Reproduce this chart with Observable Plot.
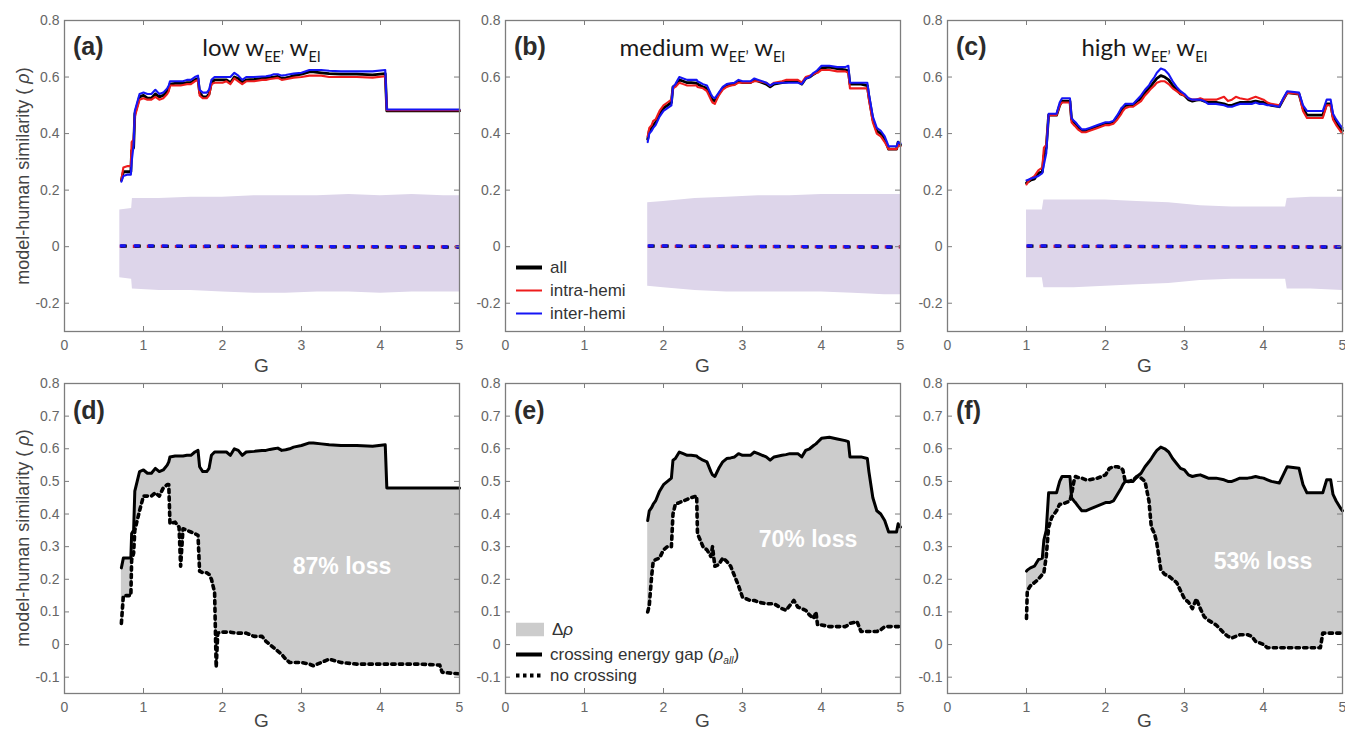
<!DOCTYPE html>
<html>
<head>
<meta charset="utf-8">
<script src="https://cdn.jsdelivr.net/npm/d3@7"></script>
<script src="https://cdn.jsdelivr.net/npm/@observablehq/plot@0.6"></script>
<style>
  html, body { margin: 0; padding: 0; background: #fff; overflow: hidden; }
  #fig { position: relative; width: 1345px; height: 732px; font-family: "Liberation Sans", Arial, sans-serif; color: #333; }
  .panel { position: absolute; }
  .abs { position: absolute; white-space: nowrap; line-height: 1; }
  .abs sub { font-size: 0.6em; vertical-align: -0.45em; line-height: 0; }
  .letter { font-weight: bold; font-size: 25px; color: #2b2b2b; }
  .title { font-family: Lato, "Liberation Sans", sans-serif; font-size: 24px; color: #1a1a1a; }
  .axlab { font-size: 19px; color: #444; }
  .loss { font-weight: bold; font-size: 23px; color: #fff; }
  .leg { font-size: 17px; color: #333; display: flex; align-items: center; }
  .leg svg { margin-right: 6px; }
</style>
</head>
<body>
<div id="fig"></div>
<script>
// ---------- panel (a)/(d): low wEE, wEI ----------
const gD = [0.72,0.745,0.80,0.84,0.85,0.875,0.89,0.92,0.95,1.00,
  1.05,1.10,1.15,1.20,1.25,1.30,1.32,1.335,1.40,1.45,
  1.47,1.50,1.55,1.60,1.65,1.69,1.71,1.75,1.80,1.83,
  1.86,1.90,1.92,1.94,2.00,2.05,2.10,2.15,2.20,2.25,
  2.30,2.40,2.50,2.55,2.60,2.65,2.70,2.75,2.80,2.85,
  2.90,3.00,3.10,3.15,3.25,3.35,3.50,3.70,3.90,4.06,
  4.08,4.50,4.75,4.78,5.00];
const allD = [0.235,0.265,0.265,0.265,0.34,0.35,0.47,0.50,0.53,0.535,
  0.525,0.525,0.54,0.53,0.535,0.55,0.56,0.575,0.578,0.578,
  0.578,0.578,0.58,0.58,0.59,0.595,0.545,0.53,0.53,0.54,
  0.58,0.59,0.59,0.59,0.59,0.59,0.58,0.60,0.595,0.58,
  0.59,0.592,0.595,0.595,0.598,0.60,0.602,0.595,0.597,0.60,
  0.605,0.61,0.618,0.618,0.615,0.612,0.61,0.61,0.608,0.612,
  0.48,0.48,0.48,0.48,0.48];
const noCrossD = [0.065,0.15,0.15,0.15,0.26,0.28,0.35,0.38,0.41,0.455,
  0.455,0.455,0.465,0.455,0.48,0.49,0.49,0.37,0.375,0.36,
  0.24,0.355,0.35,0.345,0.34,0.335,0.225,0.22,0.22,0.215,
  0.20,0.16,-0.07,0.035,0.038,0.038,0.038,0.036,0.035,0.035,
  0.035,0.025,0.025,0.01,0.0,-0.01,-0.02,-0.03,-0.045,-0.055,
  -0.055,-0.055,-0.06,-0.065,-0.055,-0.045,-0.055,-0.06,-0.06,-0.06,
  -0.06,-0.06,-0.063,-0.085,-0.09];
const intraA = [0.235,0.28,0.285,0.285,0.37,0.38,0.46,0.49,0.52,0.525,
  0.52,0.52,0.53,0.52,0.525,0.54,0.55,0.57,0.57,0.57,
  0.57,0.572,0.575,0.575,0.585,0.59,0.535,0.525,0.525,0.535,
  0.575,0.58,0.58,0.58,0.58,0.585,0.575,0.595,0.585,0.575,
  0.585,0.585,0.59,0.59,0.593,0.595,0.597,0.59,0.592,0.595,
  0.598,0.60,0.605,0.605,0.605,0.60,0.60,0.60,0.598,0.603,
  0.483,0.483,0.483,0.483,0.483];
const interA = [0.23,0.25,0.255,0.255,0.30,0.36,0.48,0.51,0.54,0.545,
  0.54,0.54,0.555,0.54,0.545,0.56,0.57,0.585,0.585,0.585,
  0.585,0.585,0.59,0.59,0.60,0.605,0.555,0.545,0.545,0.555,
  0.59,0.60,0.60,0.60,0.60,0.60,0.60,0.615,0.605,0.59,
  0.60,0.60,0.602,0.603,0.605,0.61,0.61,0.605,0.607,0.61,
  0.612,0.615,0.625,0.625,0.625,0.622,0.62,0.62,0.62,0.625,
  0.485,0.485,0.485,0.485,0.485];
const gBandA = [0.70,0.85,0.86,1.2,1.6,2.0,2.4,2.8,3.2,3.6,4.0,4.4,4.8,5.0];
const hiA = [0.13,0.135,0.17,0.17,0.175,0.175,0.18,0.18,0.18,0.185,0.18,0.185,0.18,0.18];
const loA = [-0.11,-0.115,-0.15,-0.155,-0.155,-0.16,-0.165,-0.165,-0.16,-0.16,-0.165,-0.16,-0.16,-0.16];

// ---------- panel (b)/(e): medium wEE, wEI ----------
const gE = [1.80,1.82,1.85,1.87,1.90,1.95,2.00,2.05,2.10,2.12,
  2.15,2.20,2.25,2.30,2.35,2.42,2.43,2.50,2.55,2.60,
  2.62,2.65,2.70,2.75,2.80,2.85,2.90,2.95,3.00,3.10,
  3.15,3.20,3.30,3.35,3.40,3.50,3.55,3.60,3.65,3.70,
  3.75,3.80,3.85,3.90,3.93,3.95,4.00,4.10,4.20,4.30,
  4.34,4.36,4.45,4.50,4.58,4.60,4.65,4.70,4.75,4.80,
  4.85,4.95,4.97,5.00];
const allE = [0.38,0.41,0.42,0.43,0.44,0.47,0.49,0.50,0.51,0.565,
  0.57,0.59,0.585,0.58,0.58,0.578,0.575,0.565,0.56,0.53,
  0.52,0.515,0.54,0.56,0.57,0.572,0.575,0.585,0.58,0.58,
  0.59,0.585,0.575,0.565,0.575,0.58,0.582,0.585,0.585,0.585,
  0.575,0.595,0.60,0.61,0.615,0.62,0.632,0.635,0.63,0.625,
  0.622,0.575,0.575,0.575,0.57,0.53,0.45,0.41,0.40,0.38,
  0.345,0.345,0.37,0.36];
const noCrossE = [0.10,0.12,0.21,0.255,0.26,0.265,0.29,0.30,0.30,0.40,
  0.43,0.435,0.44,0.445,0.45,0.455,0.34,0.30,0.29,0.27,
  0.30,0.24,0.245,0.265,0.255,0.24,0.21,0.18,0.145,0.135,
  0.135,0.13,0.125,0.125,0.125,0.11,0.105,0.12,0.135,0.115,
  0.11,0.105,0.09,0.08,0.10,0.06,0.06,0.055,0.055,0.055,
  0.06,0.065,0.07,0.04,0.04,0.04,0.04,0.04,0.045,0.055,
  0.055,0.055,0.055,0.055];
const intraB = [0.39,0.42,0.43,0.445,0.45,0.48,0.50,0.51,0.52,0.56,
  0.565,0.58,0.575,0.57,0.57,0.57,0.565,0.56,0.55,0.52,
  0.51,0.505,0.535,0.555,0.565,0.57,0.572,0.58,0.58,0.58,
  0.585,0.585,0.58,0.57,0.58,0.585,0.59,0.59,0.59,0.59,
  0.58,0.60,0.605,0.61,0.615,0.615,0.625,0.625,0.62,0.62,
  0.615,0.56,0.56,0.56,0.56,0.52,0.44,0.40,0.39,0.37,
  0.345,0.345,0.36,0.355];
const interB = [0.37,0.40,0.41,0.42,0.43,0.46,0.48,0.49,0.50,0.565,
  0.575,0.60,0.595,0.59,0.59,0.59,0.585,0.575,0.57,0.54,
  0.53,0.525,0.545,0.565,0.575,0.578,0.58,0.59,0.585,0.585,
  0.595,0.59,0.58,0.57,0.578,0.58,0.58,0.58,0.58,0.58,
  0.575,0.595,0.60,0.615,0.62,0.625,0.64,0.64,0.635,0.635,
  0.64,0.58,0.58,0.58,0.58,0.54,0.46,0.42,0.41,0.39,
  0.355,0.355,0.37,0.365];
const gBandB = [1.80,2.0,2.4,2.8,3.2,3.6,4.0,4.4,4.8,5.0];
const hiB = [0.155,0.16,0.17,0.175,0.18,0.18,0.185,0.185,0.185,0.185];
const loB = [-0.14,-0.145,-0.155,-0.16,-0.16,-0.16,-0.16,-0.165,-0.17,-0.17];

// ---------- panel (c)/(f): high wEE, wEI ----------
const gF = [1.00,1.01,1.05,1.10,1.15,1.20,1.22,1.25,1.28,1.32,
  1.38,1.42,1.45,1.50,1.55,1.57,1.60,1.62,1.65,1.70,
  1.75,1.80,1.90,2.00,2.05,2.10,2.15,2.20,2.22,2.25,
  2.30,2.35,2.40,2.45,2.50,2.55,2.58,2.62,2.65,2.70,
  2.75,2.80,2.85,2.90,2.95,3.00,3.05,3.10,3.15,3.20,
  3.25,3.30,3.40,3.50,3.55,3.60,3.65,3.70,3.80,3.85,
  3.90,3.95,4.00,4.05,4.10,4.20,4.25,4.30,4.45,4.50,
  4.55,4.72,4.75,4.80,4.85,4.88,4.92,4.97,5.00];
const allF = [0.225,0.228,0.235,0.24,0.26,0.265,0.32,0.35,0.465,0.465,
  0.465,0.50,0.515,0.515,0.515,0.45,0.44,0.435,0.425,0.41,
  0.41,0.415,0.425,0.435,0.435,0.44,0.46,0.48,0.49,0.50,
  0.50,0.50,0.515,0.525,0.545,0.56,0.57,0.585,0.595,0.605,
  0.60,0.59,0.57,0.555,0.54,0.535,0.52,0.515,0.518,0.52,
  0.515,0.51,0.51,0.505,0.50,0.50,0.505,0.51,0.51,0.512,
  0.515,0.512,0.51,0.505,0.50,0.495,0.52,0.545,0.54,0.49,
  0.465,0.465,0.465,0.505,0.505,0.46,0.44,0.42,0.41];
const noCrossF = [0.08,0.165,0.18,0.19,0.20,0.215,0.22,0.27,0.36,0.39,
  0.41,0.43,0.43,0.435,0.44,0.46,0.50,0.515,0.512,0.51,
  0.505,0.505,0.51,0.52,0.54,0.545,0.545,0.54,0.535,0.50,
  0.50,0.505,0.515,0.51,0.50,0.44,0.36,0.34,0.31,0.23,
  0.215,0.21,0.20,0.19,0.165,0.14,0.13,0.11,0.14,0.11,
  0.085,0.075,0.06,0.035,0.025,0.02,0.025,0.03,0.03,0.025,
  0.01,0.005,0.0,-0.01,-0.01,-0.01,-0.01,-0.01,-0.01,-0.01,
  -0.01,-0.01,0.035,0.035,0.035,0.035,0.035,0.035,0.035];
const intraC = [0.22,0.225,0.24,0.25,0.27,0.28,0.35,0.36,0.465,0.465,
  0.465,0.50,0.51,0.51,0.51,0.44,0.43,0.425,0.415,0.405,
  0.405,0.41,0.42,0.43,0.43,0.435,0.45,0.47,0.48,0.49,
  0.495,0.495,0.505,0.515,0.535,0.55,0.56,0.57,0.58,0.585,
  0.585,0.575,0.56,0.55,0.54,0.535,0.525,0.52,0.52,0.525,
  0.52,0.52,0.52,0.53,0.515,0.52,0.53,0.525,0.52,0.525,
  0.53,0.525,0.52,0.51,0.505,0.50,0.52,0.545,0.54,0.48,
  0.455,0.455,0.455,0.50,0.50,0.45,0.43,0.41,0.40];
const interC = [0.235,0.235,0.24,0.245,0.25,0.26,0.29,0.33,0.47,0.47,
  0.47,0.51,0.525,0.525,0.525,0.455,0.445,0.44,0.43,0.415,
  0.415,0.42,0.43,0.44,0.44,0.445,0.465,0.49,0.495,0.505,
  0.505,0.505,0.52,0.535,0.555,0.57,0.585,0.60,0.615,0.63,
  0.625,0.61,0.585,0.565,0.55,0.54,0.525,0.52,0.52,0.52,
  0.515,0.505,0.505,0.50,0.495,0.495,0.50,0.505,0.505,0.505,
  0.51,0.505,0.505,0.50,0.50,0.495,0.525,0.55,0.545,0.50,
  0.48,0.48,0.48,0.52,0.52,0.47,0.45,0.43,0.42];
const gBandC = [1.0,1.2,1.22,1.6,2.0,2.4,2.8,3.2,3.6,4.0,4.28,4.3,4.6,5.0];
const hiC = [0.13,0.13,0.165,0.165,0.165,0.16,0.155,0.145,0.14,0.14,0.14,0.17,0.175,0.175];
const loC = [-0.11,-0.11,-0.145,-0.145,-0.14,-0.135,-0.13,-0.12,-0.115,-0.115,-0.115,-0.15,-0.15,-0.155];

// null-model means (all / intra / inter), flat around zero
const nullAll = [0.002, -0.002];
const nullIntra = [0.001, -0.001];
const nullInter = [0.003, -0.001];

// ---------- labels, ticks ----------
const panelLetters = ["(a)", "(b)", "(c)", "(d)", "(e)", "(f)"];
const panelTitles = ["low", "medium", "high"];
const lossLabels = ["87% loss", "70% loss", "53% loss"];
const xTicks = [0, 1, 2, 3, 4, 5];
const yTicksTop = [-0.2, 0, 0.2, 0.4, 0.6, 0.8];
const yTicksBottom = [-0.1, 0, 0.1, 0.2, 0.3, 0.4, 0.5, 0.6, 0.7, 0.8];
const yLabel = 'model-human similarity ( <i>&rho;</i>)';
const xLabel = "G";

// ---------- layout ----------
const FW = 395, mL = 52, mR = 3, mT = 12, mB = 44;
const colX = [64, 505, 947];
const rowY = [20, 383];
const rowH = [311, 310];
const axisGray = "#7d7d7d", tickGray = "#666";
const RED = "#ee1c1c", BLUE = "#1515f5", LAVENDER = "#ddd5ea", FILL = "#cccccc";

const fig = document.getElementById("fig");

function zipRows(g, cols) {
  return g.map((x, i) => {
    const r = {g: x};
    for (const k in cols) r[k] = cols[k][i];
    return r;
  });
}

function framing(yTicks, fh) {
  return [
    Plot.ruleX(xTicks, {x: d => d, insetTop: fh - 5, stroke: axisGray}),
    Plot.ruleX(xTicks, {x: d => d, insetBottom: fh - 5, stroke: axisGray}),
    Plot.ruleY(yTicks, {y: d => d, insetRight: FW - 5, stroke: axisGray}),
    Plot.ruleY(yTicks, {y: d => d, insetLeft: FW - 5, stroke: axisGray}),
    Plot.frame({stroke: axisGray, strokeWidth: 1.3}),
    Plot.axisX({ticks: xTicks, tickSize: 0, tickPadding: 9, label: null, tickFormat: d => String(d), color: tickGray}),
    Plot.axisY({ticks: yTicks, tickSize: 0, tickPadding: 5, label: null, tickFormat: d => String(d), color: tickGray})
  ];
}

function place(svg, col, row) {
  const wrap = document.createElement("div");
  wrap.className = "panel";
  wrap.style.left = (colX[col] - mL) + "px";
  wrap.style.top = (rowY[row] - mT) + "px";
  wrap.append(svg);
  fig.append(wrap);
}

function basePlot(row, yDomain, marks) {
  return Plot.plot({
    width: mL + FW + mR,
    height: mT + rowH[row] + mB,
    marginLeft: mL, marginRight: mR, marginTop: mT, marginBottom: mB,
    x: {domain: [0, 5]},
    y: {domain: yDomain},
    style: {fontSize: "14px", fontFamily: '"Liberation Sans", Arial, sans-serif', background: "transparent", overflow: "visible"},
    marks
  });
}

function topPanel(col, g, all, intra, inter, gBand, hi, lo) {
  const rows = zipRows(g, {all, intra, inter});
  const band = zipRows(gBand, {hi, lo});
  const nulls = zipRows([gBand[0], gBand[gBand.length - 1]], {a: nullAll, r: nullIntra, b: nullInter});
  const dash = {strokeWidth: 3.2, strokeDasharray: "6,8", strokeLinecap: "butt"};
  place(basePlot(0, [-0.3, 0.8], [
    Plot.areaY(band, {x: "g", y1: "lo", y2: "hi", fill: LAVENDER}),
    Plot.line(nulls, {x: "g", y: "r", stroke: RED, strokeDashoffset: 1, ...dash}),
    Plot.line(nulls, {x: "g", y: "a", stroke: "#000", strokeDashoffset: -1, ...dash}),
    Plot.line(nulls, {x: "g", y: "b", stroke: BLUE, strokeDashoffset: 0, ...dash}),
    Plot.line(rows, {x: "g", y: "all", stroke: "#000", strokeWidth: 2.8}),
    Plot.line(rows, {x: "g", y: "intra", stroke: RED, strokeWidth: 2.1}),
    Plot.line(rows, {x: "g", y: "inter", stroke: BLUE, strokeWidth: 2.1}),
    ...framing(yTicksTop, rowH[0])
  ]), col, 0);
}

function bottomPanel(col, g, all, none) {
  const rows = zipRows(g, {all, none});
  place(basePlot(1, [-0.15, 0.8], [
    Plot.areaY(rows, {x: "g", y1: "none", y2: "all", fill: FILL}),
    Plot.line(rows, {x: "g", y: "none", stroke: "#000", strokeWidth: 3.6, strokeDasharray: "3.4,4.2"}),
    Plot.line(rows, {x: "g", y: "all", stroke: "#000", strokeWidth: 3}),
    ...framing(yTicksBottom, rowH[1])
  ]), col, 1);
}

topPanel(0, gD, allD, intraA, interA, gBandA, hiA, loA);
topPanel(1, gE, allE, intraB, interB, gBandB, hiB, loB);
topPanel(2, gF, allF, intraC, interC, gBandC, hiC, loC);
bottomPanel(0, gD, allD, noCrossD);
bottomPanel(1, gE, allE, noCrossE);
bottomPanel(2, gF, allF, noCrossF);

// ---------- text overlays ----------
function addText(html, x, y, cls, anchor) {
  const d = document.createElement("div");
  d.className = "abs " + cls;
  d.innerHTML = html;
  d.style.left = x + "px";
  d.style.top = y + "px";
  d.style.transform = anchor === "start" ? "translate(0,-50%)" : "translate(-50%,-50%)";
  fig.append(d);
  return d;
}

for (let c = 0; c < 3; c++) {
  const cx = colX[c] + FW / 2;
  addText(panelLetters[c], colX[c] + 9, 46, "letter", "start");
  addText(panelLetters[c + 3], colX[c] + 9, 410, "letter", "start");
  addText(panelTitles[c] + " w<sub>EE&rsquo;</sub> w<sub>EI</sub>", cx, 47, "title");
  addText(xLabel, cx, 365, "axlab");
  addText(xLabel, cx, 720, "axlab");
}
// percentage loss labels inside the shaded areas
addText(lossLabels[0], 342, 566, "loss");
addText(lossLabels[1], 808, 539, "loss");
addText(lossLabels[2], 1263, 561, "loss");

// rotated y-axis labels
for (const cy of [rowY[0] + rowH[0] / 2, rowY[1] + rowH[1] / 2]) {
  const d = addText(yLabel, 23, cy, "axlab");
  d.style.fontSize = "18px";
  d.style.transform = "translate(-50%,-50%) rotate(-90deg)";
}

// legend (b)
function lineSwatch(color, w, dash) {
  return `<svg width="28" height="10"><line x1="0" x2="26" y1="5" y2="5" stroke="${color}" stroke-width="${w}" ${dash ? `stroke-dasharray="${dash}"` : ""}/></svg>`;
}
addText(lineSwatch("#000", 4) + "all", 516, 267, "leg", "start");
addText(lineSwatch(RED, 2) + "intra-hemi", 516, 290, "leg", "start");
addText(lineSwatch(BLUE, 2) + "inter-hemi", 516, 313, "leg", "start");

// legend (e)
addText(`<svg width="30" height="14"><rect x="0" y="0" width="28" height="14" fill="${FILL}"/></svg>&Delta;<i>&rho;</i>`, 516, 629, "leg", "start");
addText(lineSwatch("#000", 4) + "crossing energy gap (<i>&rho;<sub>all</sub></i>)", 516, 654, "leg", "start");
addText(lineSwatch("#000", 4, "3.5,3.5") + "no crossing", 516, 675, "leg", "start");
</script>
</body>
</html>
